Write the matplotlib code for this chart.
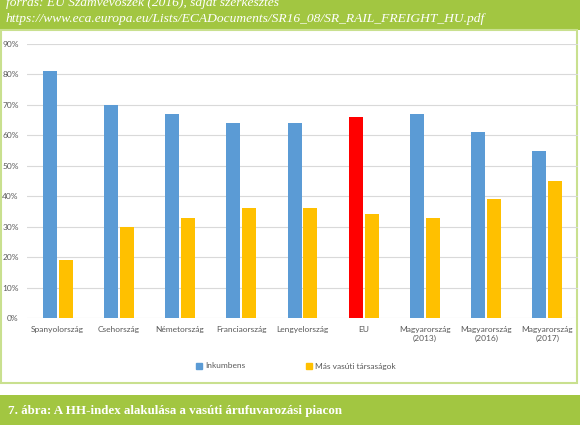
import matplotlib
matplotlib.use("Agg")
import matplotlib.pyplot as plt
from matplotlib.patches import Rectangle, Patch
import numpy as np

categories = ["Spanyolország", "Csehország", "Németország", "Franciaország",
              "Lengyelország", "EU", "Magyarország\n(2013)", "Magyarország\n(2016)",
              "Magyarország\n(2017)"]
inkumbens = [81, 70, 67, 64, 64, 66, 67, 61, 55]
mas_vasuti = [19, 30, 33, 36, 36, 34, 33, 39, 45]
yticks = [0, 10, 20, 30, 40, 50, 60, 70, 80, 90]
series_names = ["Inkumbens", "Más vasúti társaságok"]

BLUE = "#5B9BD5"
YELLOW = "#FFC000"
RED = "#FF0000"
GREEN = "#A2C641"
LIGHTGREEN = "#C9E08F"
TXT = "#595959"
FONT = "Lato"

W, H = 580, 425
fig = plt.figure(figsize=(W / 100, H / 100), dpi=100)
fig.patch.set_facecolor("white")

def fr(x0, y0, x1, y1):
    # pixel box (top-left origin) -> figure fraction rect
    return (x0 / W, 1 - y1 / H, (x1 - x0) / W, (y1 - y0) / H)

# top green band
x, y, w, h = fr(0, 0, W, 30)
fig.patches.append(Rectangle((x, y), w, h, transform=fig.transFigure, facecolor=GREEN, edgecolor="none", zorder=0))
# bottom green band
x, y, w, h = fr(0, 395, W, H)
fig.patches.append(Rectangle((x, y), w, h, transform=fig.transFigure, facecolor=GREEN, edgecolor="none", zorder=0))
# chart border box
x, y, w, h = fr(1, 30, 577, 383)
fig.patches.append(Rectangle((x, y), w, h, transform=fig.transFigure, facecolor="white", edgecolor=LIGHTGREEN, linewidth=1.5, zorder=0))

# texts in the bands
fig.text(6 / W, 1 - 3 / H, "forrás: EU Számvevőszék (2016), saját szerkesztés", color="white",
         fontsize=9.7, family="Liberation Serif", style="italic", va="center", ha="left")
fig.text(6 / W, 1 - 19 / H, "https://www.eca.europa.eu/Lists/ECADocuments/SR16_08/SR_RAIL_FREIGHT_HU.pdf",
         color="white", fontsize=9.7, family="Liberation Serif", style="italic", va="center", ha="left")
fig.text(8 / W, 1 - 411 / H, "7. ábra: A HH-index alakulása a vasúti árufuvarozási piacon",
         color="white", fontsize=9.4, family="Liberation Serif", weight="bold", va="center", ha="left")

ax = fig.add_axes(fr(27, 44, 578, 318))
ax.set_zorder(2)
ax.set_facecolor("none")
n = len(categories)
xs = np.arange(n)
bw = 0.23
gap = 0.03
blue_colors = [RED if c == "EU" else BLUE for c in categories]
ax.bar(xs - bw / 2 - gap / 2, inkumbens, width=bw, color=blue_colors, zorder=3)
ax.bar(xs + bw / 2 + gap / 2, mas_vasuti, width=bw, color=YELLOW, zorder=3)
ax.set_xlim(-0.5, n - 0.5)
ax.set_ylim(0, 90)
ax.set_yticks(yticks)
ax.set_yticklabels([f"{t}%" for t in yticks])
ax.set_xticks(xs)
ax.set_xticklabels(categories)
ax.tick_params(axis="both", length=0, colors=TXT, labelsize=6)
ax.tick_params(axis="y", pad=6)
ax.tick_params(axis="x", pad=6)
for lab in ax.get_xticklabels() + ax.get_yticklabels():
    lab.set_family(FONT)
ax.grid(axis="y", color="#D9D9D9", linewidth=0.8, zorder=0)
for s in ax.spines.values():
    s.set_visible(False)

handles = [Patch(color=BLUE), Patch(color=YELLOW)]
leg = fig.legend(handles, series_names, loc="center", bbox_to_anchor=(296 / W, 1 - 366 / H),
                 ncol=2, frameon=False, handlelength=0.7, handleheight=0.7,
                 handletextpad=0.4, columnspacing=7.3, labelcolor=TXT,
                 prop={"family": FONT, "size": 6})
leg.set_zorder(3)

fig.savefig("out.png", dpi=100)
